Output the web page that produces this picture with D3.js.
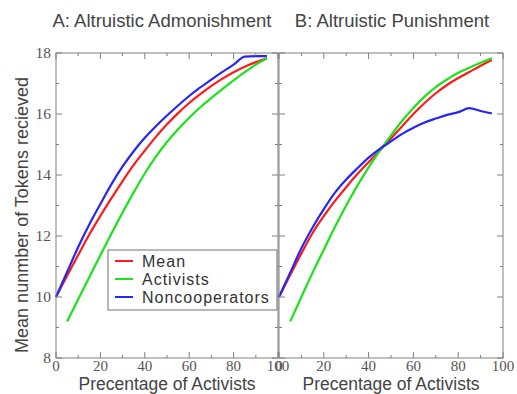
<!DOCTYPE html>
<html><head><meta charset="utf-8">
<script src="https://cdn.jsdelivr.net/npm/d3@7"></script>
<style>body{margin:0;background:#fff}svg{display:block}</style>
</head><body>
<script>
const xsAll = [0,5,10,15,20,25,30,35,40,45,50,55,60,65,70,75,80,85,90,95];
const xsAct = xsAll.slice(1);
const xTicks = [0,20,40,60,80,100];
const yTicks = [8,10,12,14,16,18];
const seriesNames = ["Mean","Activists","Noncooperators"];
const panelTitles = ["A: Altruistic Admonishment","B: Altruistic Punishment"];

// Panel A: Altruistic Admonishment
const aMean = [10.0,10.7,11.38,12.05,12.66,13.24,13.8,14.33,14.8,15.25,15.66,16.03,16.36,16.65,16.92,17.16,17.37,17.55,17.7,17.83];
const aAct  = [9.2,9.93,10.65,11.37,12.08,12.77,13.43,14.05,14.6,15.08,15.5,15.88,16.22,16.53,16.82,17.1,17.37,17.62,17.83];
const aNon  = [10.0,10.82,11.64,12.38,13.05,13.7,14.28,14.78,15.22,15.6,15.95,16.28,16.59,16.87,17.13,17.38,17.62,17.88,17.9,17.9];
// Panel B: Altruistic Punishment
const bMean = [10.0,10.72,11.43,12.1,12.65,13.15,13.6,14.03,14.42,14.8,15.2,15.6,16.0,16.36,16.68,16.95,17.18,17.38,17.58,17.77];
const bAct  = [9.2,10.0,10.8,11.55,12.3,13.0,13.65,14.25,14.8,15.3,15.78,16.2,16.57,16.88,17.13,17.35,17.52,17.68,17.83];
const bNon  = [10.0,10.8,11.6,12.28,12.88,13.42,13.85,14.22,14.57,14.86,15.1,15.35,15.55,15.72,15.85,15.97,16.06,16.19,16.1,16.02];

const colors = ["#ff1a1a","#1be21b","#2626f5"];

const W=517,H=394;
const svg=d3.select("body").append("svg").attr("width",W).attr("height",H);
const y=d3.scaleLinear().domain([8,18]).range([358,53]);
const panels=[
  {x:d3.scaleLinear().domain([0,100]).range([56,278]), data:[aMean,aAct,aNon], title:panelTitles[0], tx:162, labels:true},
  {x:d3.scaleLinear().domain([0,100]).range([279,503]), data:[bMean,bAct,bNon], title:panelTitles[1], tx:392, labels:false}
];
const axisColor="#808080";
const sans="Liberation Sans, Arial, Helvetica, sans-serif";
const serif="Liberation Serif, Times New Roman, DejaVu Serif, serif";
panels.forEach((p,pi)=>{
  const g=svg.append("g");
  const [x0,x1]=p.x.range();
  const [yb,yt]=y.range();
  p.data.forEach((vals,si)=>{
    const xs = si===1 ? xsAct : xsAll;
    const line=d3.line().x((d,i)=>p.x(xs[i])).y(d=>y(d)).curve(d3.curveMonotoneX);
    g.append("path").attr("d",line(vals)).attr("fill","none").attr("stroke",colors[si]).attr("stroke-width",2.2).attr("stroke-linejoin","round");
  });
  g.append("rect").attr("x",x0).attr("y",yt).attr("width",x1-x0).attr("height",yb-yt).attr("fill","none").attr("stroke",axisColor).attr("stroke-width",1);
  const tk=g.append("g").attr("stroke",axisColor).attr("stroke-width",1);
  d3.range(0,101,10).forEach(v=>{
    const L = v%20===0?6:3, X=p.x(v);
    tk.append("line").attr("x1",X).attr("x2",X).attr("y1",yb).attr("y2",yb-L);
    tk.append("line").attr("x1",X).attr("x2",X).attr("y1",yt).attr("y2",yt+L);
  });
  d3.range(8,18.01,1).forEach(v=>{
    const L = v%2===0?6:3, Y=y(v);
    tk.append("line").attr("x1",x0).attr("x2",x0+L).attr("y1",Y).attr("y2",Y);
    tk.append("line").attr("x1",x1).attr("x2",x1-L).attr("y1",Y).attr("y2",Y);
  });
  g.selectAll(".xt").data(xTicks).enter().append("text")
    .attr("x",d=>p.x(d)).attr("y",371).attr("text-anchor","middle")
    .attr("font-family",serif).attr("font-size",15).attr("fill","#555").text(d=>d);
  if(p.labels){
    g.selectAll(".yt").data(yTicks).enter().append("text")
      .attr("x",x0-5).attr("y",d=>y(d)+5).attr("text-anchor","end")
      .attr("font-family",serif).attr("font-size",15.5).attr("fill","#555").text(d=>d);
  }
  g.append("text").attr("x",p.tx).attr("y",27).attr("text-anchor","middle")
    .attr("font-family",sans).attr("font-size",18.5).attr("fill","#444").text(p.title);
  g.append("text").attr("x",(x0+x1)/2).attr("y",390).attr("text-anchor","middle")
    .attr("font-family",sans).attr("font-size",17.5).attr("fill","#444").text("Precentage of Activists");
});
svg.append("text").attr("transform","translate(28,215) rotate(-90)").attr("text-anchor","middle")
  .attr("font-family",sans).attr("font-size",18).attr("fill","#444").text("Mean nunmber of Tokens recieved");
const lg=svg.append("g");
lg.append("rect").attr("x",108).attr("y",250).attr("width",169).attr("height",60).attr("fill","#fff").attr("stroke","#888").attr("stroke-width",1.2);
const legendY=[261,279,297];
seriesNames.forEach((n,i)=>{
  lg.append("line").attr("x1",115).attr("x2",133).attr("y1",legendY[i]).attr("y2",legendY[i]).attr("stroke",colors[i]).attr("stroke-width",2);
  lg.append("text").attr("x",142).attr("y",legendY[i]+6).attr("font-family",sans).attr("font-size",16).attr("letter-spacing",1).attr("fill","#333").text(n);
});
</script>
</body></html>
